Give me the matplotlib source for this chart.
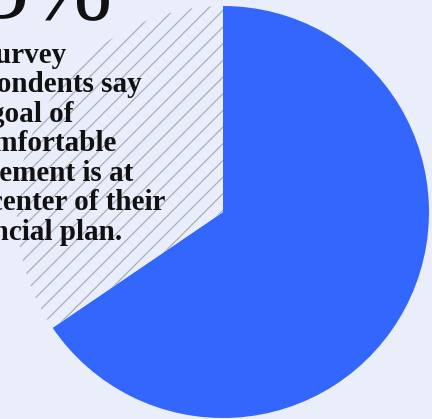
import matplotlib.pyplot as plt
from matplotlib.patches import Wedge

plt.rcParams['hatch.linewidth'] = 0.9
plt.rcParams['hatch.color'] = '#a9afba'

# share of respondents
labels = ['At center', 'Other']
shares = [65.5, 34.5]
headline = '65%'
caption = ('Of survey\nrespondents say\nthe goal of\na comfortable\n'
           'retirement is at\nthe center of their\nfinancial plan.')

bg = '#e9eefa'
blue = '#3366fc'

fig = plt.figure(figsize=(4.32, 4.19), dpi=100, facecolor=bg)
ax = fig.add_axes([0, 0, 1, 1])
ax.set_facecolor(bg)
ax.set_xlim(0, 432)
ax.set_ylim(419, 0)
ax.axis('off')

cx, cy, r = 223, 212, 206
# angles in screen coords (y down): start at 12 o'clock, go clockwise
start = -90
for i, s in enumerate(shares):
    sweep = s / sum(shares) * 360
    if i == 0:
        w = Wedge((cx, cy), r, start, start + sweep, facecolor=blue,
                  edgecolor='none')
    else:
        w = Wedge((cx, cy), r, start, start + sweep, facecolor=bg,
                  edgecolor='#a9afba', linewidth=0, hatch='//')
    ax.add_patch(w)
    start += sweep

ax.text(-70, 18, headline, fontsize=72, family='Liberation Serif',
        ha='left', va='baseline', color='#111111')
# baseline of the last caption line
ax.text(-56, 240, caption, fontsize=21, family='Liberation Serif',
        fontweight='bold', ha='left', va='baseline', color='#111111',
        linespacing=1.12)

fig.savefig('out.png', dpi=100, facecolor=bg)
